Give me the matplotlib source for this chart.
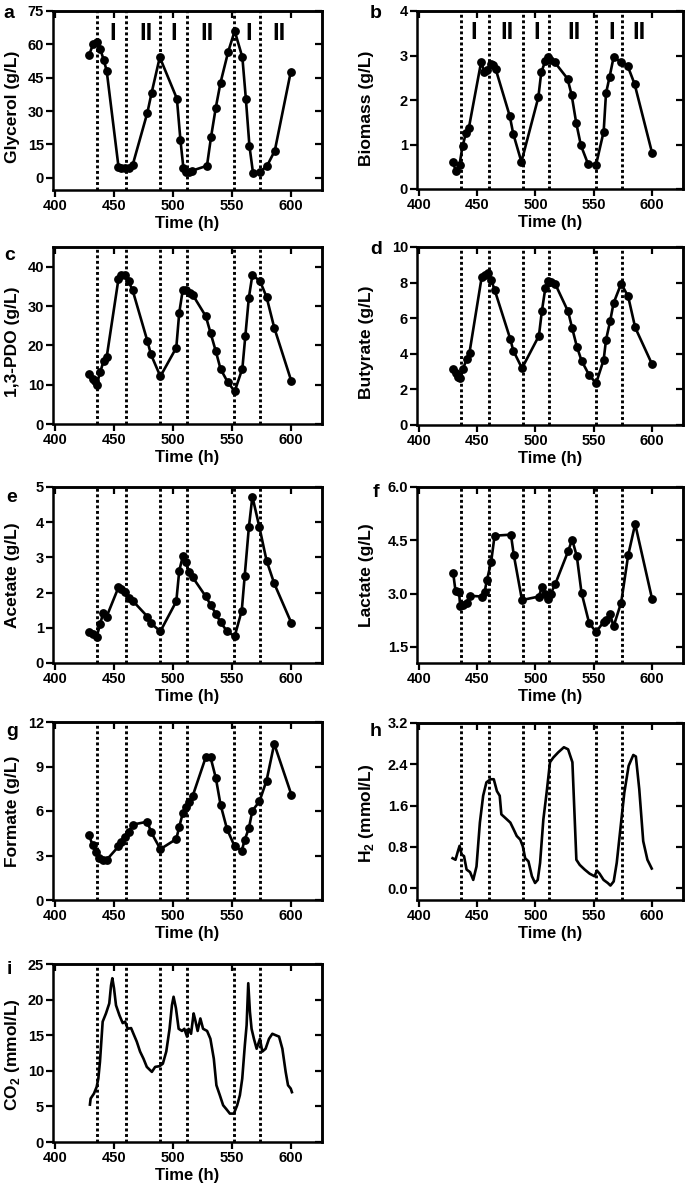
import matplotlib
matplotlib.use('Agg')
import matplotlib.pyplot as plt

plt.rcParams['font.family'] = ['Liberation Sans', 'DejaVu Sans']
plt.rcParams['font.weight'] = 'bold'
plt.rcParams['axes.labelweight'] = 'bold'

# ---------------- data ----------------
phase_lines = [436, 460, 489, 512, 552, 574]
phase_labels = ['I', 'II', 'I', 'II', 'I', 'II']
phase_label_x_a = [449, 477, 501, 529, 564, 590]
phase_label_x_b = [447, 475.5, 501, 533, 565, 589]

glycerol_t = [429, 432.5, 435.5, 438.5, 441.5, 444, 454, 456.5, 459.5, 462.5, 466, 478.5, 482, 489,
              503.5, 506.5, 509, 511, 513.5, 516.5, 529, 532.5, 536.5, 540.5, 547, 552.5, 559, 562,
              565, 568, 574, 580, 586.5, 600]
glycerol = [55.2, 60.0, 61.2, 57.9, 53.0, 48.1, 5.0, 4.5, 4.2, 4.5, 5.7, 29.3, 38.0, 54.2,
            35.6, 17.0, 4.5, 2.7, 2.7, 3.2, 5.4, 18.5, 31.6, 42.8, 56.7, 66.0, 54.2, 35.3,
            14.3, 2.3, 2.7, 5.4, 12.2, 47.6]

biomass_t = [429, 432, 435, 437.5, 440.5, 443, 453.5, 456, 458.5, 461.5, 464, 466, 478, 481, 488,
             502.5, 505, 508.5, 510.5, 512.5, 516.5, 527.5, 531, 535, 539, 545, 552, 558.5, 560.5,
             563.5, 567, 573, 579, 585, 600]
biomass = [0.61, 0.40, 0.55, 0.96, 1.26, 1.38, 2.86, 2.64, 2.68, 2.81, 2.79, 2.69, 1.64, 1.24, 0.61,
           2.06, 2.62, 2.88, 2.96, 2.89, 2.85, 2.48, 2.12, 1.48, 0.98, 0.57, 0.55, 1.29, 2.15,
           2.51, 2.96, 2.86, 2.77, 2.36, 0.81]

pdo_t = [429, 432, 434.5, 435.5, 438.5, 441.5, 444, 454, 456.5, 459.5, 462.5, 466, 478.5, 481.5,
         489.5, 503, 505.5, 508.5, 511.5, 514.5, 517, 528, 532, 536.5, 540.5, 546.5, 552.5, 559,
         561.5, 564.5, 567.5, 574, 579.5, 586, 600.5]
pdo = [12.6, 11.4, 10.9, 10.0, 13.2, 16.1, 17.0, 36.9, 38.0, 37.8, 36.3, 34.0, 21.1, 17.7,
       12.1, 19.4, 28.3, 34.1, 34.0, 33.2, 32.8, 27.4, 23.2, 18.5, 14.0, 10.7, 8.3, 14.1,
       22.3, 32.1, 37.9, 36.3, 32.3, 24.5, 10.9]

butyrate_t = [429.5, 431.5, 433.5, 435.5, 438, 441, 443.5, 454, 456.5, 459.5, 462, 465, 478.5, 481,
              488.5, 503, 505.5, 508.5, 511, 513, 517, 528, 531.5, 535.5, 539.5, 546, 552, 558.5,
              560.5, 564, 567, 573.5, 579.5, 585.5, 600]
butyrate = [3.15, 2.91, 2.72, 2.66, 3.15, 3.71, 4.07, 8.33, 8.44, 8.54, 8.16, 7.6, 4.82, 4.18,
            3.19, 5.01, 6.38, 7.69, 8.07, 8.03, 7.92, 6.38, 5.44, 4.41, 3.62, 2.81, 2.35, 3.66,
            4.78, 5.82, 6.85, 7.94, 7.22, 5.48, 3.41]

acetate_t = [429, 432, 435.5, 438.5, 441, 444, 454, 456.5, 459.5, 462.5, 466, 478.5, 481.5, 489.5,
             503, 505.5, 508.5, 511, 514, 517, 528, 532, 536.5, 540.5, 546, 552.5, 558.5, 561,
             564.5, 567.5, 573.5, 579.5, 586, 600.5]
acetate = [0.88, 0.83, 0.74, 1.11, 1.42, 1.32, 2.15, 2.10, 2.03, 1.84, 1.77, 1.32, 1.13, 0.90,
           1.75, 2.62, 3.03, 2.86, 2.58, 2.43, 1.89, 1.66, 1.40, 1.16, 0.90, 0.76, 1.49, 2.48,
           3.85, 4.73, 3.85, 2.91, 2.26, 1.14]

lactate_t = [429.5, 431.5, 434.5, 435.5, 438, 441, 443.5, 454, 456.5, 458.5, 462, 465, 479, 481.5,
             488.5, 503, 505.5, 508.5, 511, 513, 517, 528, 531.5, 535.5, 539.5, 546, 552, 558.5,
             560.5, 564, 567, 573.5, 579.5, 585.5, 600]
lactate = [3.58, 3.08, 3.06, 2.65, 2.68, 2.73, 2.94, 2.92, 3.06, 3.39, 3.88, 4.63, 4.66, 4.08,
           2.82, 2.92, 3.18, 3.00, 2.84, 2.99, 3.27, 4.19, 4.52, 4.05, 3.03, 2.18, 1.92, 2.21,
           2.27, 2.42, 2.08, 2.75, 4.08, 4.96, 2.85]

formate_t = [429, 432, 435, 437.5, 441, 444, 454, 456.5, 459.5, 462.5, 466, 478.5, 481.5, 489.5,
             503, 505.5, 508.5, 511, 514, 517, 528, 532, 536.5, 540.5, 546, 552.5, 558.5, 561,
             564.5, 567.5, 573.5, 579.5, 586, 600.5]
formate = [4.40, 3.70, 3.25, 2.86, 2.68, 2.71, 3.61, 3.93, 4.26, 4.56, 5.08, 5.28, 4.60, 3.43,
           4.11, 4.94, 5.84, 6.25, 6.59, 7.04, 9.63, 9.63, 8.23, 6.43, 4.78, 3.61, 3.32, 4.06,
           4.83, 6.02, 6.65, 8.05, 10.53, 7.11]

h2_t = [429, 431.5, 433.5, 435, 436.8, 438.8, 441, 444, 446.7, 449.5, 452.4, 455.2, 458, 461.5,
        464.3, 467, 469.4, 470.8, 474.2, 478.5, 481.3, 484, 487, 489.2, 491.2, 494, 497, 499.7,
        502, 504, 506.8, 509.6, 512.5, 515.3, 519.5, 524.4, 528, 531.7, 533.7, 535.1, 538,
        542.2, 546.5, 550.7, 552.7, 555, 558.4, 562, 564.3, 567.1, 569.7, 572.8, 576.2, 579.9,
        583.9, 586.1, 589, 592.4, 596, 599.7]
h2 = [0.58, 0.55, 0.71, 0.82, 0.65, 0.62, 0.36, 0.31, 0.16, 0.42, 1.27, 1.79, 2.05, 2.11,
      2.11, 1.88, 1.79, 1.43, 1.36, 1.27, 1.14, 1.01, 0.94, 0.81, 0.58, 0.52, 0.23, 0.10,
      0.16, 0.49, 1.33, 1.85, 2.44, 2.53, 2.63, 2.73, 2.69, 2.44, 1.33, 0.55, 0.45,
      0.36, 0.28, 0.23, 0.34, 0.28, 0.16, 0.10, 0.05, 0.13, 0.49, 1.14, 1.85, 2.37,
      2.58, 2.55, 1.92, 0.91, 0.55, 0.38]

co2_t = [429.8, 430.4, 433.2, 435.5, 436.9, 438.3, 440.6, 443.4, 446.2, 447.7, 448.8, 450.2, 451.9,
         454.8, 457.6, 459.6, 461.8, 464.7, 466.7, 469.5, 472.3, 475.2, 478, 482.3, 485.1, 488.8,
         491.6, 494.5, 497.3, 499.3, 500.7, 502.7, 505, 507.8, 509.8, 512.1, 513.5, 515.5, 517.7,
         519.1, 521.1, 523.4, 525.7, 529.1, 531.9, 534.8, 537, 539.9, 542.7, 545.5, 548.4, 551.8,
         554.6, 556.9, 558.9, 561.1, 562.6, 564, 565.4, 566.8, 568.8, 571.1, 573.9, 575.9, 578.7,
         581.6, 584.4, 587.2, 590.1, 592.9, 595.7, 597.7, 600, 601]
co2 = [5.25, 6.1, 6.8, 7.74, 8.9, 11.26, 16.9, 18.06, 19.47, 22.0, 23.0, 21.6, 19.2,
       17.8, 16.7, 16.9, 15.9, 16.0, 15.2, 14.1, 12.7, 11.7, 10.55, 9.85, 10.55, 10.65,
       11.0, 12.7, 15.9, 19.2, 20.4, 18.8, 15.9, 15.6, 15.9, 14.8, 15.9, 15.2, 18.06,
       17.1, 15.6, 17.35, 15.9, 15.6, 14.5, 11.7, 7.97, 6.57, 5.16, 4.6, 3.99, 3.99,
       5.16, 6.57, 8.9, 13.6, 16.4, 22.3, 18.3, 15.9, 14.5, 13.1, 14.5, 12.7, 13.1,
       14.5, 15.2, 15.0, 14.8, 13.1, 9.85, 7.97, 7.5, 7.0]

x_ticks = [400, 450, 500, 550, 600]

# ---------------- layout ----------------
W, H = 685, 1194
fig = plt.figure(figsize=(W / 100, H / 100), dpi=100)

SPINE_LW = 1.8


def make_axes(l, t, r, b):
    return fig.add_axes([l / W, 1 - b / H, (r - l) / W, (b - t) / H])


def style(ax, ylim, yticks, yticklabels=None):
    ax.set_xlim(398.5, 626.5)
    ax.set_ylim(*ylim)
    ax.set_xticks(x_ticks)
    ax.set_yticks(yticks)
    if yticklabels is not None:
        ax.set_yticklabels(yticklabels)
    for s in ax.spines.values():
        s.set_linewidth(SPINE_LW)
    ax.tick_params(axis='both', which='both', width=1.6, length=5, labelsize=10.5, pad=1.5,
                   direction='out')
    for lab in ax.get_xticklabels() + ax.get_yticklabels():
        lab.set_fontweight('bold')
    # mirrored inward ticks on top and right
    top = ax.secondary_xaxis('top')
    top.set_xticks(x_ticks)
    top.tick_params(direction='in', width=1.6, length=5, labeltop=False)
    top.spines['top'].set_linewidth(SPINE_LW)
    right = ax.secondary_yaxis('right')
    right.set_yticks(yticks)
    right.tick_params(direction='in', width=1.6, length=5, labelright=False)
    right.spines['right'].set_linewidth(SPINE_LW)
    for x in phase_lines:
        ax.axvline(x, color='black', lw=2.1, linestyle=(0, (1.0, 0.9)), zorder=1)
    ax.set_xlabel('Time (h)', fontsize=12, fontweight='bold', labelpad=2)


def scatter_line(ax, t, y):
    ax.plot(t, y, color='black', lw=1.9, marker='o', markersize=5.3, zorder=3)


def ylabel(text, xpx, ax, dy=0):
    pos = ax.get_position()
    yc = (pos.y0 + pos.y1) / 2 - dy / H
    fig.text(xpx / W, yc, text, rotation=90, ha='center', va='center',
             fontsize=12.5, fontweight='bold')


def letter(ch, xpx, ypx):
    fig.text(xpx / W, 1 - ypx / H, ch, ha='center', va='center', fontsize=14, fontweight='bold')


# a
ax = make_axes(53, 11, 322, 190)
scatter_line(ax, glycerol_t, glycerol)
style(ax, (-5.5, 75), [0, 15, 30, 45, 60, 75])
for x, s in zip(phase_label_x_a, phase_labels):
    ax.text(x, 0.877, s, transform=ax.get_xaxis_transform(), ha='center', va='center',
            fontsize=17, fontweight='bold')
ylabel('Glycerol (g/L)', 12, ax, dy=6)
letter('a', 9, 14)

# b
ax = make_axes(417, 11, 683, 189)
scatter_line(ax, biomass_t, biomass)
style(ax, (0, 4), [0, 1, 2, 3, 4])
for x, s in zip(phase_label_x_b, phase_labels):
    ax.text(x, 0.877, s, transform=ax.get_xaxis_transform(), ha='center', va='center',
            fontsize=17, fontweight='bold')
ylabel('Biomass (g/L)', 367, ax, dy=8)
letter('b', 376, 14)

# c
ax = make_axes(53, 247, 322, 424)
scatter_line(ax, pdo_t, pdo)
style(ax, (0, 45), [0, 10, 20, 30, 40])
ylabel('1,3-PDO (g/L)', 12, ax, dy=6)
letter('c', 10, 256)

# d
ax = make_axes(417, 247, 683, 425)
scatter_line(ax, butyrate_t, butyrate)
style(ax, (0, 10), [0, 2, 4, 6, 8, 10])
ylabel('Butyrate (g/L)', 367, ax, dy=6)
letter('d', 376, 249)

# e
ax = make_axes(53, 487, 322, 663)
scatter_line(ax, acetate_t, acetate)
style(ax, (0, 5), [0, 1, 2, 3, 4, 5])
ylabel('Acetate (g/L)', 12, ax)
letter('e', 12, 497)

# f
ax = make_axes(417, 487, 683, 663)
scatter_line(ax, lactate_t, lactate)
style(ax, (1.05, 6.0), [1.5, 3.0, 4.5, 6.0], ['1.5', '3.0', '4.5', '6.0'])
ylabel('Lactate (g/L)', 367, ax)
letter('f', 376, 493)

# g
ax = make_axes(53, 722, 322, 900)
scatter_line(ax, formate_t, formate)
style(ax, (0, 12), [0, 3, 6, 9, 12])
ylabel('Formate (g/L)', 12, ax)
letter('g', 12, 732)

# h
ax = make_axes(417, 723, 683, 900)
ax.plot(h2_t, h2, color='black', lw=1.9, zorder=3)
style(ax, (-0.23, 3.2), [0.0, 0.8, 1.6, 2.4, 3.2], ['0.0', '0.8', '1.6', '2.4', '3.2'])
ylabel(r'H$_\mathregular{2}$ (mmol/L)', 367, ax, dy=2)
letter('h', 376, 732)

# i
ax = make_axes(53, 964, 322, 1142)
ax.plot(co2_t, co2, color='black', lw=1.9, zorder=3)
style(ax, (0, 25), [0, 5, 10, 15, 20, 25])
ylabel(r'CO$_\mathregular{2}$ (mmol/L)', 12, ax, dy=2)
letter('i', 9, 970)

fig.savefig('out.png', dpi=100)
